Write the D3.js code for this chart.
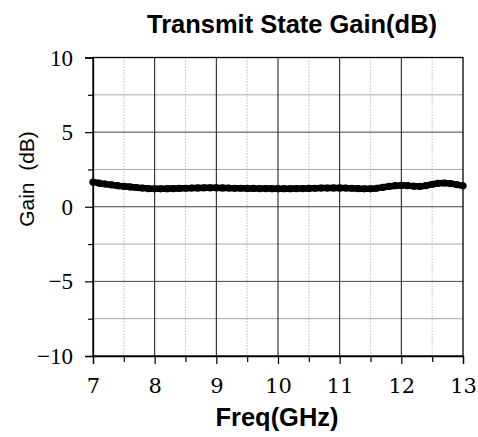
<!DOCTYPE html>
<html><head><meta charset="utf-8">
<script src="https://cdn.jsdelivr.net/npm/d3@7/dist/d3.min.js"></script>
<style>body{margin:0;background:#fff}svg{display:block}</style>
</head><body>
<script>
const freqs = [7.0,7.1,7.2,7.3,7.4,7.5,7.6,7.7,7.8,7.9,8.0,8.1,8.2,8.3,8.4,8.5,8.6,8.7,8.8,8.9,9.0,9.1,9.2,9.3,9.4,9.5,9.6,9.7,9.8,9.9,10.0,10.1,10.2,10.3,10.4,10.5,10.6,10.7,10.8,10.9,11.0,11.1,11.2,11.3,11.4,11.5,11.6,11.7,11.8,11.9,12.0,12.1,12.2,12.3,12.4,12.5,12.6,12.7,12.8,12.9,13.0];
const gains = [1.65,1.58,1.52,1.47,1.41,1.37,1.33,1.29,1.25,1.22,1.20,1.20,1.21,1.22,1.23,1.24,1.25,1.26,1.27,1.27,1.27,1.26,1.25,1.24,1.24,1.23,1.23,1.22,1.22,1.21,1.21,1.21,1.21,1.22,1.22,1.23,1.24,1.25,1.25,1.26,1.26,1.25,1.24,1.22,1.20,1.20,1.24,1.30,1.36,1.41,1.43,1.42,1.38,1.37,1.42,1.50,1.57,1.59,1.55,1.48,1.40];
const xMajorTicks = [7,8,9,10,11,12,13];
const xMinorTicks = [7.5,8.5,9.5,10.5,11.5,12.5];
const yMajorTicks = [-10,-5,0,5,10];
const yMinorTicks = [-7.5,-2.5,2.5,7.5];
const yTickLabels = ["\u221210","\u22125","0","5","10"];
const titleText = "Transmit State Gain(dB)";
const xTitle = "Freq(GHz)";
const yTitle = "Gain\u00A0\u00A0(dB)";

const W = 478, H = 437;
const L = 93, T = 57.5, R = 463, B = 356;
const svg = d3.select("body").append("svg").attr("width", W).attr("height", H);
const x = d3.scaleLinear().domain([7,13]).range([L,R]);
const y = d3.scaleLinear().domain([-10,10]).range([B,T]);

// grid
const g = svg.append("g");
g.selectAll(".vmin").data(xMinorTicks).join("line")
  .attr("x1", d=>x(d)).attr("x2", d=>x(d)).attr("y1", T).attr("y2", B)
  .attr("stroke", "#b8b8b8").attr("stroke-width", 1.2).attr("stroke-dasharray", "1.2,1.8");
g.selectAll(".hmin").data(yMinorTicks).join("line")
  .attr("x1", L).attr("x2", R).attr("y1", d=>y(d)).attr("y2", d=>y(d))
  .attr("stroke", "#a8a8a8").attr("stroke-width", 1);
g.selectAll(".vmaj").data(xMajorTicks.slice(1,-1)).join("line")
  .attr("x1", d=>x(d)).attr("x2", d=>x(d)).attr("y1", T).attr("y2", B)
  .attr("stroke", "#111").attr("stroke-width", 1);
g.selectAll(".hmaj").data(yMajorTicks.slice(1,-1)).join("line")
  .attr("x1", L).attr("x2", R).attr("y1", d=>y(d)).attr("y2", d=>y(d))
  .attr("stroke", "#444").attr("stroke-width", 1);

// frame
svg.append("rect").attr("x", L).attr("y", T).attr("width", R-L).attr("height", B-T)
  .attr("fill", "none").attr("stroke", "#000").attr("stroke-width", 1.3);

// axes
const xAxis = svg.append("g").attr("transform", `translate(0,${B})`)
  .attr("font-family", "'DejaVu Serif'").attr("font-size", 21)
  .call(d3.axisBottom(x).tickValues(xMajorTicks).tickSize(8).tickFormat(d3.format("d")));
svg.append("g").attr("transform", `translate(0,${B})`)
  .call(d3.axisBottom(x).tickValues(xMinorTicks).tickSize(6).tickFormat(""))
  .call(a=>a.select(".domain").remove());
const yAxis = svg.append("g").attr("transform", `translate(${L},0)`)
  .call(d3.axisLeft(y).tickValues(yMajorTicks).tickSize(8).tickFormat((d,i)=>yTickLabels[i]));
svg.append("g").attr("transform", `translate(${L},0)`)
  .call(d3.axisLeft(y).tickValues(yMinorTicks).tickSize(5).tickFormat(""))
  .call(a=>a.select(".domain").remove());
xAxis.attr("font-family", "DejaVu Serif").attr("font-size", 21);
yAxis.attr("font-family", "Liberation Serif").attr("font-size", 23);
svg.selectAll(".domain").attr("stroke", "#000").attr("stroke-width", 1.3);
svg.selectAll(".tick line").attr("stroke", "#000").attr("stroke-width", 1.2);
xAxis.selectAll("text").attr("dy", null).attr("y", 37).attr("fill", "#000");
yAxis.selectAll("text").attr("x", -20).attr("dy", "0.33em").attr("fill", "#000");

// data
const line = d3.line().x((d,i)=>x(freqs[i])).y(d=>y(d)).curve(d3.curveMonotoneX);
svg.append("path").datum(gains).attr("d", line).attr("fill", "none")
  .attr("stroke", "#000").attr("stroke-width", 6.5).attr("stroke-linecap", "round");
svg.selectAll(".pt").data(gains).join("circle")
  .attr("cx", (d,i)=>x(freqs[i])).attr("cy", d=>y(d)).attr("r", 3.6).attr("fill", "#000");

// titles
svg.append("text").attr("x", 292).attr("y", 33).attr("text-anchor", "middle")
  .attr("font-family", "'Liberation Sans',Arial,sans-serif").attr("font-weight", "bold")
  .attr("font-size", 25).attr("textLength", 290).attr("lengthAdjust", "spacingAndGlyphs")
  .text(titleText);
svg.append("text").attr("x", 277).attr("y", 426).attr("text-anchor", "middle")
  .attr("font-family", "'Liberation Sans',Arial,sans-serif").attr("font-weight", "bold")
  .attr("font-size", 25).attr("textLength", 123).attr("lengthAdjust", "spacingAndGlyphs")
  .text(xTitle);
svg.append("text").attr("transform", "translate(34,179) rotate(-90)").attr("text-anchor", "middle")
  .attr("font-family", "'Liberation Sans',Arial,sans-serif")
  .attr("font-size", 21)
  .text(yTitle);
</script>
</body></html>
